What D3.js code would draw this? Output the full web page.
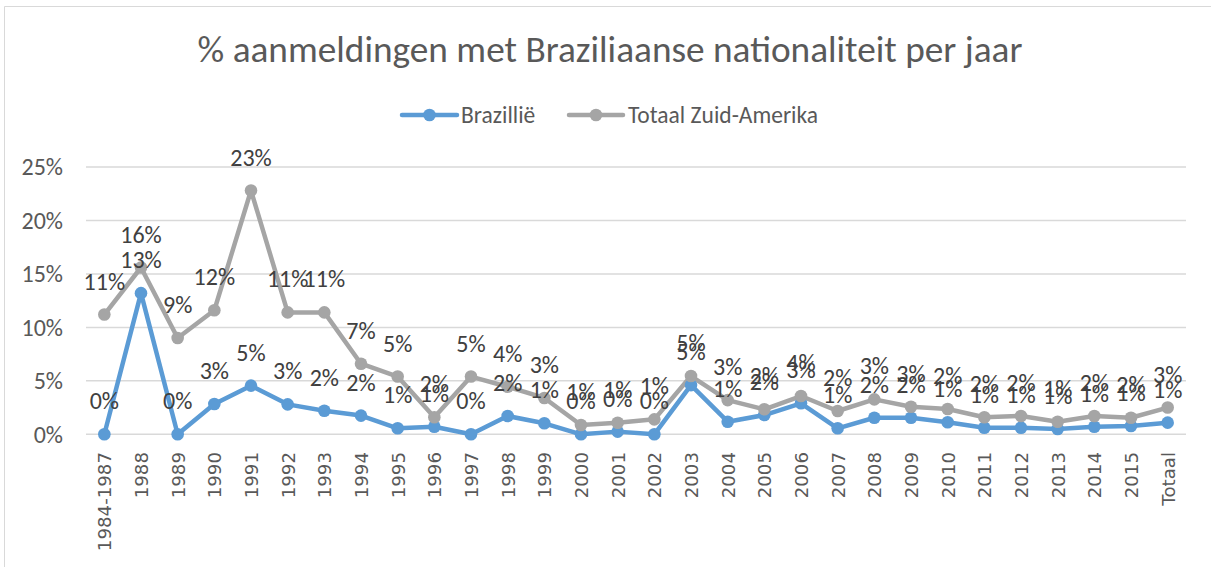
<!DOCTYPE html>
<html><head><meta charset="utf-8">
<script src="https://cdn.jsdelivr.net/npm/d3@7"></script>
<style>
html,body{margin:0;padding:0;background:#fff;}
svg{display:block;}
</style></head>
<body>
<svg id="chart" width="1211" height="567"></svg>
<script>
const categories = ["1984-1987","1988","1989","1990","1991","1992","1993","1994","1995","1996","1997","1998","1999","2000","2001","2002","2003","2004","2005","2006","2007","2008","2009","2010","2011","2012","2013","2014","2015","Totaal"];
const brazilie = [0,13.2,0,2.83,4.55,2.8,2.2,1.75,0.56,0.71,0,1.71,1.03,0,0.25,0,4.6,1.18,1.8,2.9,0.56,1.55,1.55,1.12,0.62,0.62,0.5,0.71,0.78,1.09];
const zuidAmerika = [11.2,15.6,9.0,11.6,22.8,11.4,11.4,6.6,5.4,1.6,5.4,4.45,3.4,0.87,1.08,1.4,5.45,3.2,2.34,3.58,2.18,3.27,2.58,2.36,1.59,1.71,1.18,1.71,1.55,2.5];
const yTicks = [0,5,10,15,20,25];
const seriesNames = ["Brazillië","Totaal Zuid-Amerika"];
const title = "% aanmeldingen met Braziliaanse nationaliteit per jaar";

const series = [
  {name: seriesNames[0], values: brazilie, color: "#5B9BD5"},
  {name: seriesNames[1], values: zuidAmerika, color: "#A5A5A5"}
];

const svg = d3.select("#chart");
const calibri = "Carlito, Lato, 'Open Sans', sans-serif";

// chart border (top & left visible)
svg.append("line").attr("x1",4.5).attr("x2",1211).attr("y1",6.5).attr("y2",6.5).attr("stroke","#d9d9d9").attr("stroke-width",1);
svg.append("line").attr("x1",4.5).attr("x2",4.5).attr("y1",6.5).attr("y2",567).attr("stroke","#d9d9d9").attr("stroke-width",1);

const x = d3.scalePoint().domain(categories).range([86,1186]).padding(0.5);
const y = d3.scaleLinear().domain([0,25]).range([434.3,167]);

// title
const t = svg.append("text").attr("x",610).attr("y",62).attr("text-anchor","middle")
  .attr("fill","#595959").style("font-family",calibri).style("font-weight",300).style("font-size","32px").text(title);
const tw = t.node().getComputedTextLength();
t.style("font-size", (32*825/tw).toFixed(2)+"px");

// gridlines
svg.append("g").selectAll("line").data(yTicks).join("line")
  .attr("x1",86).attr("x2",1186).attr("y1",d=>y(d)).attr("y2",d=>y(d))
  .attr("stroke","#d9d9d9").attr("stroke-width",1.5);

// y axis labels
const yAxis = d3.axisLeft(y).tickValues(yTicks).tickFormat(d=>d+"%").tickSize(0).tickPadding(0);
const ya = svg.append("g").attr("transform","translate(63,0)").call(yAxis);
ya.select(".domain").remove();
ya.selectAll("text").attr("fill","#595959").style("font-family",calibri).style("font-size","24px").attr("dy","0.33em");

// x axis labels
const xAxis = d3.axisBottom(x).tickSize(0).tickPadding(0);
const xa = svg.append("g").attr("transform","translate(0,452)").call(xAxis);
xa.select(".domain").remove();
xa.selectAll("text").attr("fill","#595959").style("font-family","'DejaVu Sans', sans-serif").style("font-size","18.2px")
  .attr("text-anchor","end").attr("transform","rotate(-90)").attr("x",0).attr("y",0).attr("dy","0.36em");

// lines and markers
const line = d3.line().x((d,i)=>x(categories[i])).y(d=>y(d));
series.forEach(s=>{
  svg.append("path").datum(s.values).attr("d",line).attr("fill","none")
    .attr("stroke",s.color).attr("stroke-width",4.5).attr("stroke-linejoin","round").attr("stroke-linecap","round");
});
series.forEach(s=>{
  svg.append("g").selectAll("circle").data(s.values).join("circle")
    .attr("cx",(d,i)=>x(categories[i])).attr("cy",d=>y(d)).attr("r",6.3).attr("fill",s.color);
});
// data labels
series.forEach(s=>{
  svg.append("g").selectAll("text").data(s.values).join("text")
    .attr("x",(d,i)=>x(categories[i])).attr("y",d=>y(d)-25).attr("text-anchor","middle")
    .attr("fill","#404040").style("font-family",calibri).style("font-size","24px")
    .text(d=>Math.round(d)+"%");
});

// legend
const leg = [{x1:402,x2:457,tx:461},{x1:569,x2:623,tx:628}];
series.forEach((s,i)=>{
  const L = leg[i];
  svg.append("line").attr("x1",L.x1).attr("x2",L.x2).attr("y1",115).attr("y2",115).attr("stroke",s.color).attr("stroke-width",4.5).attr("stroke-linecap","round");
  svg.append("circle").attr("cx",(L.x1+L.x2)/2).attr("cy",115).attr("r",6.3).attr("fill",s.color);
  svg.append("text").attr("x",L.tx).attr("y",115).attr("dy","0.35em").attr("fill","#595959")
    .style("font-family",calibri).style("font-size","23.5px").text(s.name);
});
</script>
</body></html>
